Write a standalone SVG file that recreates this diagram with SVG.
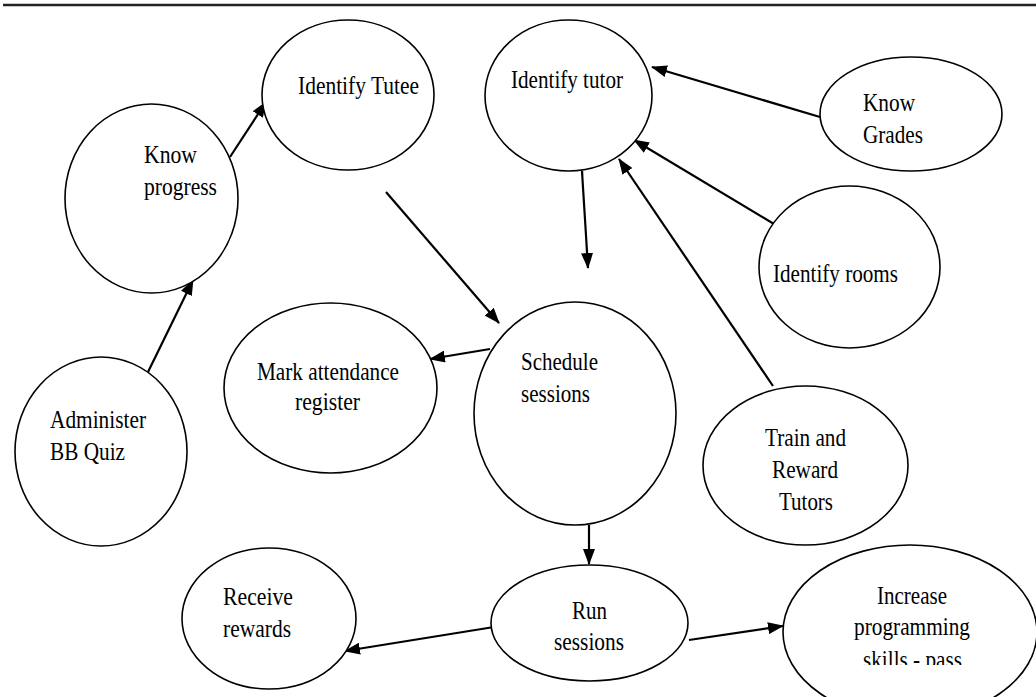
<svg xmlns="http://www.w3.org/2000/svg" width="1036" height="697" viewBox="0 0 1036 697">
  <style>
    .node { fill: #ffffff; stroke: #000000; stroke-width: 1.6; }
    .lbl { font-family: "Liberation Serif", "Times New Roman", serif; font-size: 26px; fill: #000000; }
    .edge { fill: none; stroke: #000000; stroke-width: 2.2; marker-end: url(#arrow); }
    .plain { fill: none; stroke: #000000; stroke-width: 2.2; }
  </style>
  <defs>
    <marker id="arrow" markerUnits="userSpaceOnUse" markerWidth="16" markerHeight="12" refX="15" refY="6" orient="auto">
      <path d="M0,0 L16,6 L0,12 Z" fill="#000000"/>
    </marker>
    <clipPath id="clipIncrease">
      <rect x="780" y="540" width="256" height="125"/>
    </clipPath>
  </defs>
  <rect x="0" y="0" width="1036" height="697" fill="#ffffff"/>

  <!-- header rule -->
  <line x1="3" y1="5" x2="1036" y2="5" stroke="#222222" stroke-width="2.5"/>

  <!-- connectors -->
  <g id="connectors">
    <line class="edge" x1="148" y1="372" x2="193" y2="280"/>
    <line class="edge" x1="230" y1="157" x2="266" y2="102"/>
    <line class="edge" x1="386" y1="192" x2="499" y2="323"/>
    <line class="edge" x1="582" y1="171" x2="588" y2="268"/>
    <line class="edge" x1="820" y1="117" x2="652" y2="67"/>
    <line class="edge" x1="774" y1="224" x2="634" y2="140"/>
    <line class="edge" x1="773" y1="386" x2="619" y2="159"/>
    <line class="edge" x1="490" y1="349" x2="430" y2="359"/>
    <line class="edge" x1="589" y1="525" x2="589" y2="564"/>
    <line class="edge" x1="494" y1="627" x2="345" y2="651"/>
    <line class="edge" x1="689" y1="640" x2="783" y2="626"/>
  </g>

  <g id="know-progress">
    <ellipse class="node" cx="151.5" cy="198.5" rx="86.5" ry="94.5"/>
    <text class="lbl" x="144" y="163" textLength="53" lengthAdjust="spacingAndGlyphs">Know</text>
    <text class="lbl" x="144" y="195" textLength="73" lengthAdjust="spacingAndGlyphs">progress</text>
  </g>

  <g id="identify-tutee">
    <ellipse class="node" cx="348" cy="95" rx="86" ry="75"/>
    <text class="lbl" x="298" y="94" textLength="121" lengthAdjust="spacingAndGlyphs">Identify Tutee</text>
  </g>

  <g id="identify-tutor">
    <ellipse class="node" cx="568.5" cy="95.5" rx="83.5" ry="75.5"/>
    <text class="lbl" x="511" y="88" textLength="112" lengthAdjust="spacingAndGlyphs">Identify tutor</text>
  </g>

  <g id="know-grades">
    <ellipse class="node" cx="911" cy="114" rx="91" ry="57"/>
    <text class="lbl" x="863" y="111" textLength="52" lengthAdjust="spacingAndGlyphs">Know</text>
    <text class="lbl" x="863" y="143" textLength="60" lengthAdjust="spacingAndGlyphs">Grades</text>
  </g>

  <g id="identify-rooms">
    <ellipse class="node" cx="849.5" cy="267" rx="90.5" ry="81"/>
    <text class="lbl" x="773" y="282" textLength="125" lengthAdjust="spacingAndGlyphs">Identify rooms</text>
  </g>

  <g id="mark-attendance">
    <ellipse class="node" cx="330.5" cy="388" rx="106.5" ry="85"/>
    <text class="lbl" x="257" y="380" textLength="142" lengthAdjust="spacingAndGlyphs">Mark attendance</text>
    <text class="lbl" x="295" y="410" textLength="65" lengthAdjust="spacingAndGlyphs">register</text>
  </g>

  <g id="schedule-sessions">
    <ellipse class="node" cx="575" cy="413.5" rx="101" ry="111.5"/>
    <text class="lbl" x="521" y="370" textLength="77" lengthAdjust="spacingAndGlyphs">Schedule</text>
    <text class="lbl" x="521" y="402" textLength="69" lengthAdjust="spacingAndGlyphs">sessions</text>
  </g>

  <g id="administer-quiz">
    <ellipse class="node" cx="101" cy="451.5" rx="86" ry="94.5"/>
    <text class="lbl" x="50" y="428" textLength="96" lengthAdjust="spacingAndGlyphs">Administer</text>
    <text class="lbl" x="50" y="460" textLength="75" lengthAdjust="spacingAndGlyphs">BB Quiz</text>
  </g>

  <g id="train-reward">
    <ellipse class="node" cx="805.5" cy="465.5" rx="102.5" ry="79.5"/>
    <text class="lbl" x="765" y="446" textLength="81" lengthAdjust="spacingAndGlyphs">Train and</text>
    <text class="lbl" x="772" y="478" textLength="66" lengthAdjust="spacingAndGlyphs">Reward</text>
    <text class="lbl" x="779" y="510" textLength="54" lengthAdjust="spacingAndGlyphs">Tutors</text>
  </g>

  <g id="receive-rewards">
    <ellipse class="node" cx="269" cy="618.5" rx="87" ry="70.5"/>
    <text class="lbl" x="223" y="605" textLength="70" lengthAdjust="spacingAndGlyphs">Receive</text>
    <text class="lbl" x="223" y="637" textLength="68" lengthAdjust="spacingAndGlyphs">rewards</text>
  </g>

  <g id="run-sessions">
    <ellipse class="node" cx="589.5" cy="623" rx="98.5" ry="58"/>
    <text class="lbl" x="572" y="619" textLength="35" lengthAdjust="spacingAndGlyphs">Run</text>
    <text class="lbl" x="554" y="650" textLength="70" lengthAdjust="spacingAndGlyphs">sessions</text>
  </g>

  <g id="increase-skills">
    <ellipse class="node" cx="910" cy="632" rx="127" ry="87"/>
    <g clip-path="url(#clipIncrease)">
      <text class="lbl" x="877" y="604" textLength="70" lengthAdjust="spacingAndGlyphs">Increase</text>
      <text class="lbl" x="854" y="635" textLength="116" lengthAdjust="spacingAndGlyphs">programming</text>
      <text class="lbl" x="863" y="668" textLength="99" lengthAdjust="spacingAndGlyphs">skills - pass</text>
    </g>
  </g>
</svg>
